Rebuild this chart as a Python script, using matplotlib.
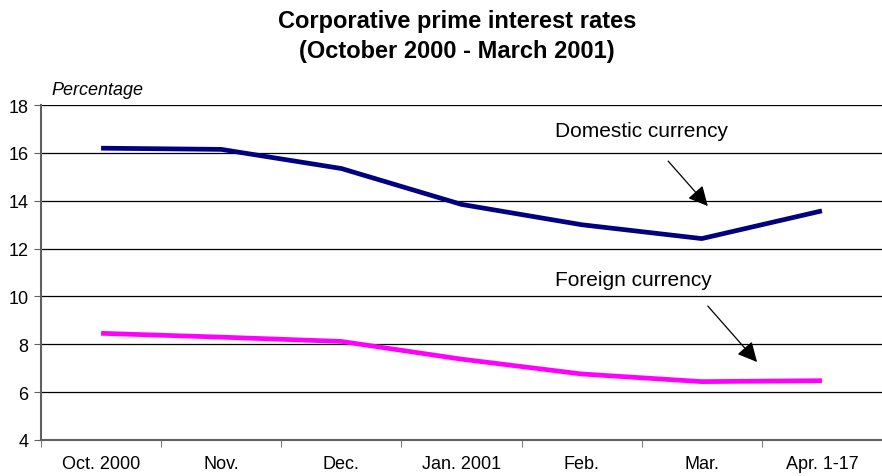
import numpy as np
import matplotlib
matplotlib.use('Agg')
import matplotlib.pyplot as plt

plt.rcParams['font.family'] = ['Liberation Sans', 'DejaVu Sans']

months = ['Oct. 2000', 'Nov.', 'Dec.', 'Jan. 2001', 'Feb.', 'Mar.', 'Apr. 1-17']
domestic = [16.2, 16.15, 15.35, 13.85, 13.0, 12.42, 13.58]
foreign = [8.46, 8.3, 8.12, 7.38, 6.76, 6.44, 6.48]

fig = plt.figure(figsize=(8.82, 4.77), dpi=100)
ax = fig.add_axes([0.0465, 0.0755, 0.9535, 0.702])

x = np.arange(len(months))
ax.plot(x, domestic, color='#000080', lw=3.4, solid_capstyle='butt')
ax.plot(x, foreign, color='#ff00ff', lw=3.4, solid_capstyle='butt')

ax.set_xlim(-0.5, len(months) - 0.5)
ax.set_ylim(4, 18)
ax.set_yticks(np.arange(4, 19, 2))
ax.yaxis.grid(True, color='black', lw=0.9)
ax.set_axisbelow(True)

ax.set_xticks(x)
ax.set_xticklabels(months, fontsize=13)
ax.set_xticks(np.arange(-0.5, len(months)), minor=True)
ax.tick_params(axis='x', which='major', length=0, pad=11)
ax.tick_params(axis='x', which='minor', length=5, color='#606060', direction='out')
ax.tick_params(axis='y', length=5, color='#606060', labelsize=13, pad=4)

for s in ['top', 'right']:
    ax.spines[s].set_visible(False)
for s in ['left', 'bottom']:
    ax.spines[s].set_color('#606060')
    ax.spines[s].set_linewidth(1.5)

ax.text(-0.41, 18.3, 'Percentage', style='italic', fontsize=13, va='bottom')

fig.text(0.518, 0.979, 'Corporative prime interest rates\n(October 2000 - March 2001)',
         ha='center', va='top', fontsize=17, fontweight='bold', linespacing=1.4)

# arrows from the labels to the lines
ax.annotate('', xy=(5.05, 13.78), xytext=(4.72, 15.66),
            arrowprops=dict(arrowstyle='-|>', color='black', lw=0.9,
                            mutation_scale=30, shrinkA=0, shrinkB=0))
ax.annotate('', xy=(5.46, 7.26), xytext=(5.05, 9.6),
            arrowprops=dict(arrowstyle='-|>', color='black', lw=0.9,
                            mutation_scale=30, shrinkA=0, shrinkB=0))
ax.text(3.78, 16.95, 'Domestic currency', fontsize=15, ha='left', va='center')
ax.text(3.78, 10.73, 'Foreign currency', fontsize=15, ha='left', va='center')

plt.savefig('out.png', dpi=100)
